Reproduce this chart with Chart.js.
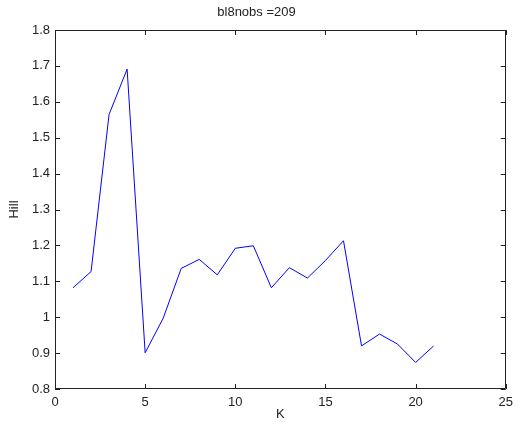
<!DOCTYPE html>
<html><head><meta charset="utf-8">
<script src="https://cdn.jsdelivr.net/npm/chart.js@4/dist/chart.umd.min.js"></script>
<style>html,body{margin:0;padding:0;background:#fff;overflow:hidden}</style>
</head><body>
<canvas id="c" width="519" height="428"></canvas>
<script>
const kValues = [1,2,3,4,5,6,7,8,9,10,11,12,13,14,15,16,17,18,19,20,21];
const hillValues = [1.082,1.127,1.565,1.691,0.901,0.997,1.136,1.161,1.118,1.192,1.199,1.082,1.138,1.109,1.158,1.213,0.920,0.953,0.925,0.874,0.920];
const xTicks = [0,5,10,15,20,25];
const yTicks = [0.8,0.9,1.0,1.1,1.2,1.3,1.4,1.5,1.6,1.7,1.8];
const chartTitle = 'bl8nobs =209';
const xLabel = 'K';
const yLabel = 'Hill';

const FONT = {family: '"Liberation Sans", Arial, Helvetica, sans-serif', size: 13, weight: 'normal'};
const INK = '#222';

const boxTicks = {
  id: 'boxTicks',
  afterDraw(chart) {
    const {ctx, chartArea: a, scales} = chart;
    ctx.save();
    ctx.strokeStyle = INK;
    ctx.lineWidth = 1;
    ctx.beginPath();
    ctx.rect(Math.round(a.left) + 0.5, Math.round(a.top) + 0.5, Math.round(a.right - a.left) - 1, Math.round(a.bottom - a.top) - 1);
    ctx.stroke();
    const L = 5;
    ctx.beginPath();
    xTicks.forEach(v => {
      const x = Math.round(scales.x.getPixelForValue(v)) + 0.5;
      ctx.moveTo(x, a.bottom); ctx.lineTo(x, a.bottom - L);
      ctx.moveTo(x, a.top); ctx.lineTo(x, a.top + L);
    });
    yTicks.forEach(v => {
      const y = Math.round(scales.y.getPixelForValue(v)) + 0.5;
      ctx.moveTo(a.left, y); ctx.lineTo(a.left + L, y);
      ctx.moveTo(a.right, y); ctx.lineTo(a.right - L, y);
    });
    ctx.stroke();
    ctx.restore();
  }
};

new Chart(document.getElementById('c'), {
  type: 'line',
  data: {
    datasets: [{
      data: kValues.map((k, i) => ({x: k, y: hillValues[i]})),
      borderColor: '#0000ff',
      borderWidth: 1,
      pointRadius: 0,
      tension: 0,
      fill: false
    }]
  },
  options: {
    responsive: false,
    animation: false,
    devicePixelRatio: 1,
    layout: {padding: {top: 0, right: 6, left: 0, bottom: 0}},
    plugins: {
      legend: {display: false},
      tooltip: {enabled: false},
      title: {
        display: true, text: chartTitle, color: INK,
        font: FONT, padding: {top: 5, bottom: 9.4}
      }
    },
    scales: {
      x: {
        type: 'linear', min: 0, max: 25,
        afterBuildTicks: s => { s.ticks = xTicks.map(v => ({value: v})); },
        afterFit: s => { s.height = 39; },
        grid: {display: false, drawTicks: false},
        border: {display: false},
        ticks: {color: INK, font: FONT, padding: 6, maxRotation: 0, callback: v => String(v)},
        title: {display: true, text: xLabel, color: INK, font: FONT, padding: {top: 0, bottom: 6}}
      },
      y: {
        type: 'linear', min: 0.8, max: 1.8,
        afterBuildTicks: s => { s.ticks = yTicks.map(v => ({value: v})); },
        afterFit: s => { s.width = 55; },
        grid: {display: false, drawTicks: false},
        border: {display: false},
        ticks: {color: INK, font: FONT, padding: 5, callback: v => String(Math.round(v * 10) / 10)},
        title: {display: true, text: yLabel, color: INK, font: FONT, padding: {top: 7, bottom: 0}}
      }
    }
  },
  plugins: [boxTicks]
});
</script>
</body></html>
